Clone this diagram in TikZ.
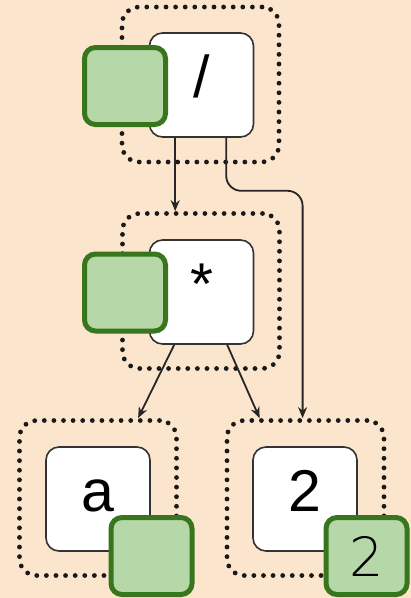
\documentclass[tikz,border=0pt]{standalone}
\usepackage{fontspec}
\setmainfont{Liberation Sans}
\newfontfamily\thinfont{DejaVu Sans ExtraLight}
\usetikzlibrary{arrows.meta,calc}
\definecolor{bgpeach}{HTML}{FCE5CD}
\definecolor{tagfill}{HTML}{B6D7A8}
\definecolor{tagline}{HTML}{38761D}

\begin{document}
\begin{tikzpicture}[x=1pt,y=-1pt,
  group/.style={draw=black!90, line width=4.8pt, line cap=round,
    dash pattern=on 0pt off 9.6pt, rounded corners=17pt,
    minimum width=157pt, minimum height=155pt, inner sep=0pt},
  cell/.style={draw=black!80, fill=white, line width=1.6pt, rounded corners=13pt,
    minimum width=104pt, minimum height=104pt, inner sep=0pt},
  tag/.style={draw=tagline, fill=tagfill, line width=5pt, rounded corners=11pt,
    minimum width=81pt, minimum height=77pt, inner sep=0pt,
    font=\thinfont\fontsize{54}{54}\selectfont},
  op/.style={anchor=base, inner sep=0pt, font=\fontsize{59}{59}\selectfont},
  link/.style={draw=black!85, line width=1.8pt, -{Stealth[length=11pt,width=9pt]}}]

  % canvas
  \fill[bgpeach] (0,0) rectangle (411,598);
  \useasboundingbox (0,0) rectangle (411,598);

  % dotted groups
  \node[group] (g1) at (200.5,84.5) {};
  \node[group] (g2) at (201,291) {};
  \node[group] (g3) at (98,498) {};
  \node[group] (g4) at (305.5,498) {};

  % expression cells
  \node[cell] (c1) at (201.5,85) {};
  \node[cell] (c2) at (201.5,292) {};
  \node[cell] (c3) at (98,499) {};
  \node[cell] (c4) at (305,499) {};

  \node[op] (t1) at ($(c1.north)+(0,65)$) {/};
  \node[op] (t2) at ($(c2.north)+(0,65)$) {*};
  \node[op] (t3) at ($(c3.north)+(0,65)$) {a};
  \node[op] (t4) at ($(c4.north)+(0,65)$) {2};

  % edges
  \coordinate (a1) at ($(c1.south west)+(26.5,0)$);
  \draw[link] (a1) -- (a1 |- g2.north);

  \coordinate (a2) at ($(c1.south west)+(77.5,0)$);
  \coordinate (e2) at ($(g4.north west)+(78,0)$);
  \draw[link, rounded corners=15pt] (a2) -- ++(0,53) -| (e2);

  \coordinate (a3) at ($(c2.south west)+(25.5,0)$);
  \coordinate (e3) at ($(g3.north west)+(121,0)$);
  \draw[link] (a3) -- (e3);

  \coordinate (a4) at ($(c2.south west)+(78.5,0)$);
  \coordinate (e4) at ($(g4.north west)+(35,0)$);
  \draw[link] (a4) -- (e4);

  % value tags
  \node[tag] (v1) at (125,86) {};
  \node[tag] (v2) at (125,292.5) {};
  \node[tag] (v3) at (151.5,556) {};
  \node[tag] (v4) at (366.5,556) {2};
\end{tikzpicture}
\end{document}
